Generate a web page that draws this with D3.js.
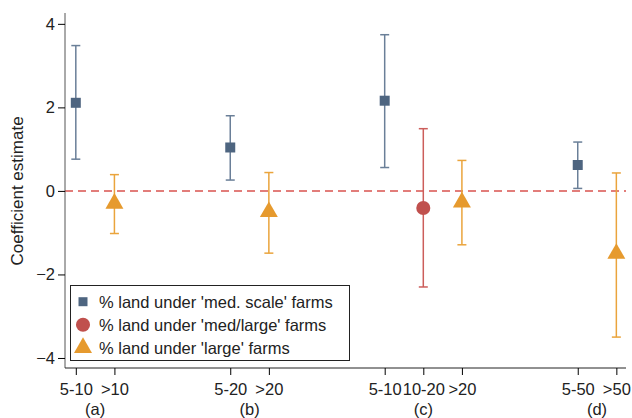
<!DOCTYPE html>
<html>
<head>
<meta charset="utf-8">
<script src="https://cdn.jsdelivr.net/npm/d3@7"></script>
<style>
  body { margin: 0; background: #fff; }
  text { font-family: "Liberation Sans", Arial, sans-serif; fill: #222; }
</style>
</head>
<body>
<div id="container"></div>
<script>
// x positions are slots on the category axis
const tickPos = [1, 2, 5, 6, 9, 10, 11, 14, 15];
const tickLabels = ["5-10", ">10", "5-20", ">20", "5-10", "10-20", ">20", "5-50", ">50"];
const groupPos = [1.5, 5.5, 10, 14.5];
const groupLabels = ["(a)", "(b)", "(c)", "(d)"];

// series: [slot, estimate, low, high]
const medScale = [[1, 2.11, 0.76, 3.48], [5, 1.04, 0.26, 1.80], [9, 2.16, 0.56, 3.74], [14, 0.62, 0.06, 1.17]];
const medLarge = [[10, -0.41, -2.30, 1.49]];
const large = [[2, -0.30, -1.02, 0.39], [6, -0.50, -1.49, 0.44], [11, -0.27, -1.29, 0.73], [15, -1.50, -3.50, 0.43]];

const yTicks = [-4, -2, 0, 2, 4];
const legendLabels = ["% land under 'med. scale' farms", "% land under 'med/large' farms", "% land under 'large' farms"];

const W = 632, H = 418;
const plot = { left: 65, right: 626, top: 13, bottom: 368 };
const fs = "16.5px";

const svg = d3.select("#container").append("svg")
  .attr("width", W).attr("height", H);

const x = d3.scaleLinear().domain([0.72, 15.25]).range([plot.left, plot.right]);
const y = d3.scaleLinear().domain([-4.24, 4.26]).range([plot.bottom, plot.top]);

// zero reference line
svg.append("line")
  .attr("x1", plot.left).attr("x2", plot.right)
  .attr("y1", y(0)).attr("y2", y(0))
  .attr("stroke", "#d9534f").attr("stroke-width", 1.5)
  .attr("stroke-dasharray", "8,5");

// y axis
const yAxis = svg.append("g")
  .attr("transform", `translate(${plot.left},0)`)
  .call(d3.axisLeft(y).tickValues(yTicks).tickSize(7).tickPadding(3).tickFormat(d3.format("d")));
yAxis.select(".domain").attr("stroke", "#555").attr("d", `M-0,${plot.top}V${plot.bottom}`);
yAxis.selectAll("text").style("font-size", fs).attr("fill", "#222");

// x axis
const xAxis = svg.append("g")
  .attr("transform", `translate(0,${plot.bottom})`)
  .call(d3.axisBottom(x).tickValues(tickPos).tickSize(7).tickPadding(8.5)
    .tickFormat((d, i) => tickLabels[i]));
xAxis.select(".domain").attr("stroke", "#222").attr("d", `M${plot.left},0H${plot.right}`);
xAxis.selectAll("text").style("font-size", fs).attr("fill", "#222");

svg.selectAll(".grp").data(groupPos).enter().append("text")
  .attr("x", d => x(d)).attr("y", 414.5)
  .attr("text-anchor", "middle").style("font-size", fs)
  .text((d, i) => groupLabels[i]);

// y title
svg.append("text")
  .attr("transform", `translate(23,${y(0)}) rotate(-90)`)
  .attr("text-anchor", "middle").style("font-size", "17px")
  .text("Coefficient estimate");

function drawBars(data, color) {
  const g = svg.append("g").attr("stroke", color).attr("stroke-width", 1.5);
  data.forEach(d => {
    g.append("line").attr("x1", x(d[0])).attr("x2", x(d[0])).attr("y1", y(d[2])).attr("y2", y(d[3]));
    g.append("line").attr("x1", x(d[0]) - 4.5).attr("x2", x(d[0]) + 4.5).attr("y1", y(d[2])).attr("y2", y(d[2]));
    g.append("line").attr("x1", x(d[0]) - 4.5).attr("x2", x(d[0]) + 4.5).attr("y1", y(d[3])).attr("y2", y(d[3]));
  });
}

const cSq = "#4e6580", cSqBar = "#6a7f98", cCi = "#c0504d", cCiBar = "#cc5e5b", cTr = "#e69a2e", cTrBar = "#eaa43c";

drawBars(medScale, cSqBar);
drawBars(medLarge, cCiBar);
drawBars(large, cTrBar);

const sym = (type, size) => d3.symbol().type(type).size(size)();

svg.selectAll(".sq").data(medScale).enter().append("path")
  .attr("d", sym(d3.symbolSquare, 100))
  .attr("transform", d => `translate(${x(d[0])},${y(d[1])})`)
  .attr("fill", cSq);
svg.selectAll(".ci").data(medLarge).enter().append("path")
  .attr("d", sym(d3.symbolCircle, 155))
  .attr("transform", d => `translate(${x(d[0])},${y(d[1])})`)
  .attr("fill", cCi);
svg.selectAll(".tr").data(large).enter().append("path")
  .attr("d", sym(d3.symbolTriangle, 140))
  .attr("transform", d => `translate(${x(d[0])},${y(d[1])})`)
  .attr("fill", cTr);

// legend
const lg = svg.append("g");
lg.append("rect").attr("x", 70.5).attr("y", 285.5).attr("width", 279).attr("height", 75)
  .attr("fill", "#fff").attr("stroke", "#222").attr("stroke-width", 1);
const legendSyms = [[d3.symbolSquare, 81, cSq], [d3.symbolCircle, 155, cCi], [d3.symbolTriangle, 140, cTr]];
legendLabels.forEach((t, i) => {
  const yy = 301.7 + i * 23;
  lg.append("path").attr("d", sym(legendSyms[i][0], legendSyms[i][1]))
    .attr("transform", `translate(83,${yy})`).attr("fill", legendSyms[i][2]);
  lg.append("text").attr("x", 99).attr("y", yy + 6).style("font-size", fs).text(t);
});
</script>
</body>
</html>
